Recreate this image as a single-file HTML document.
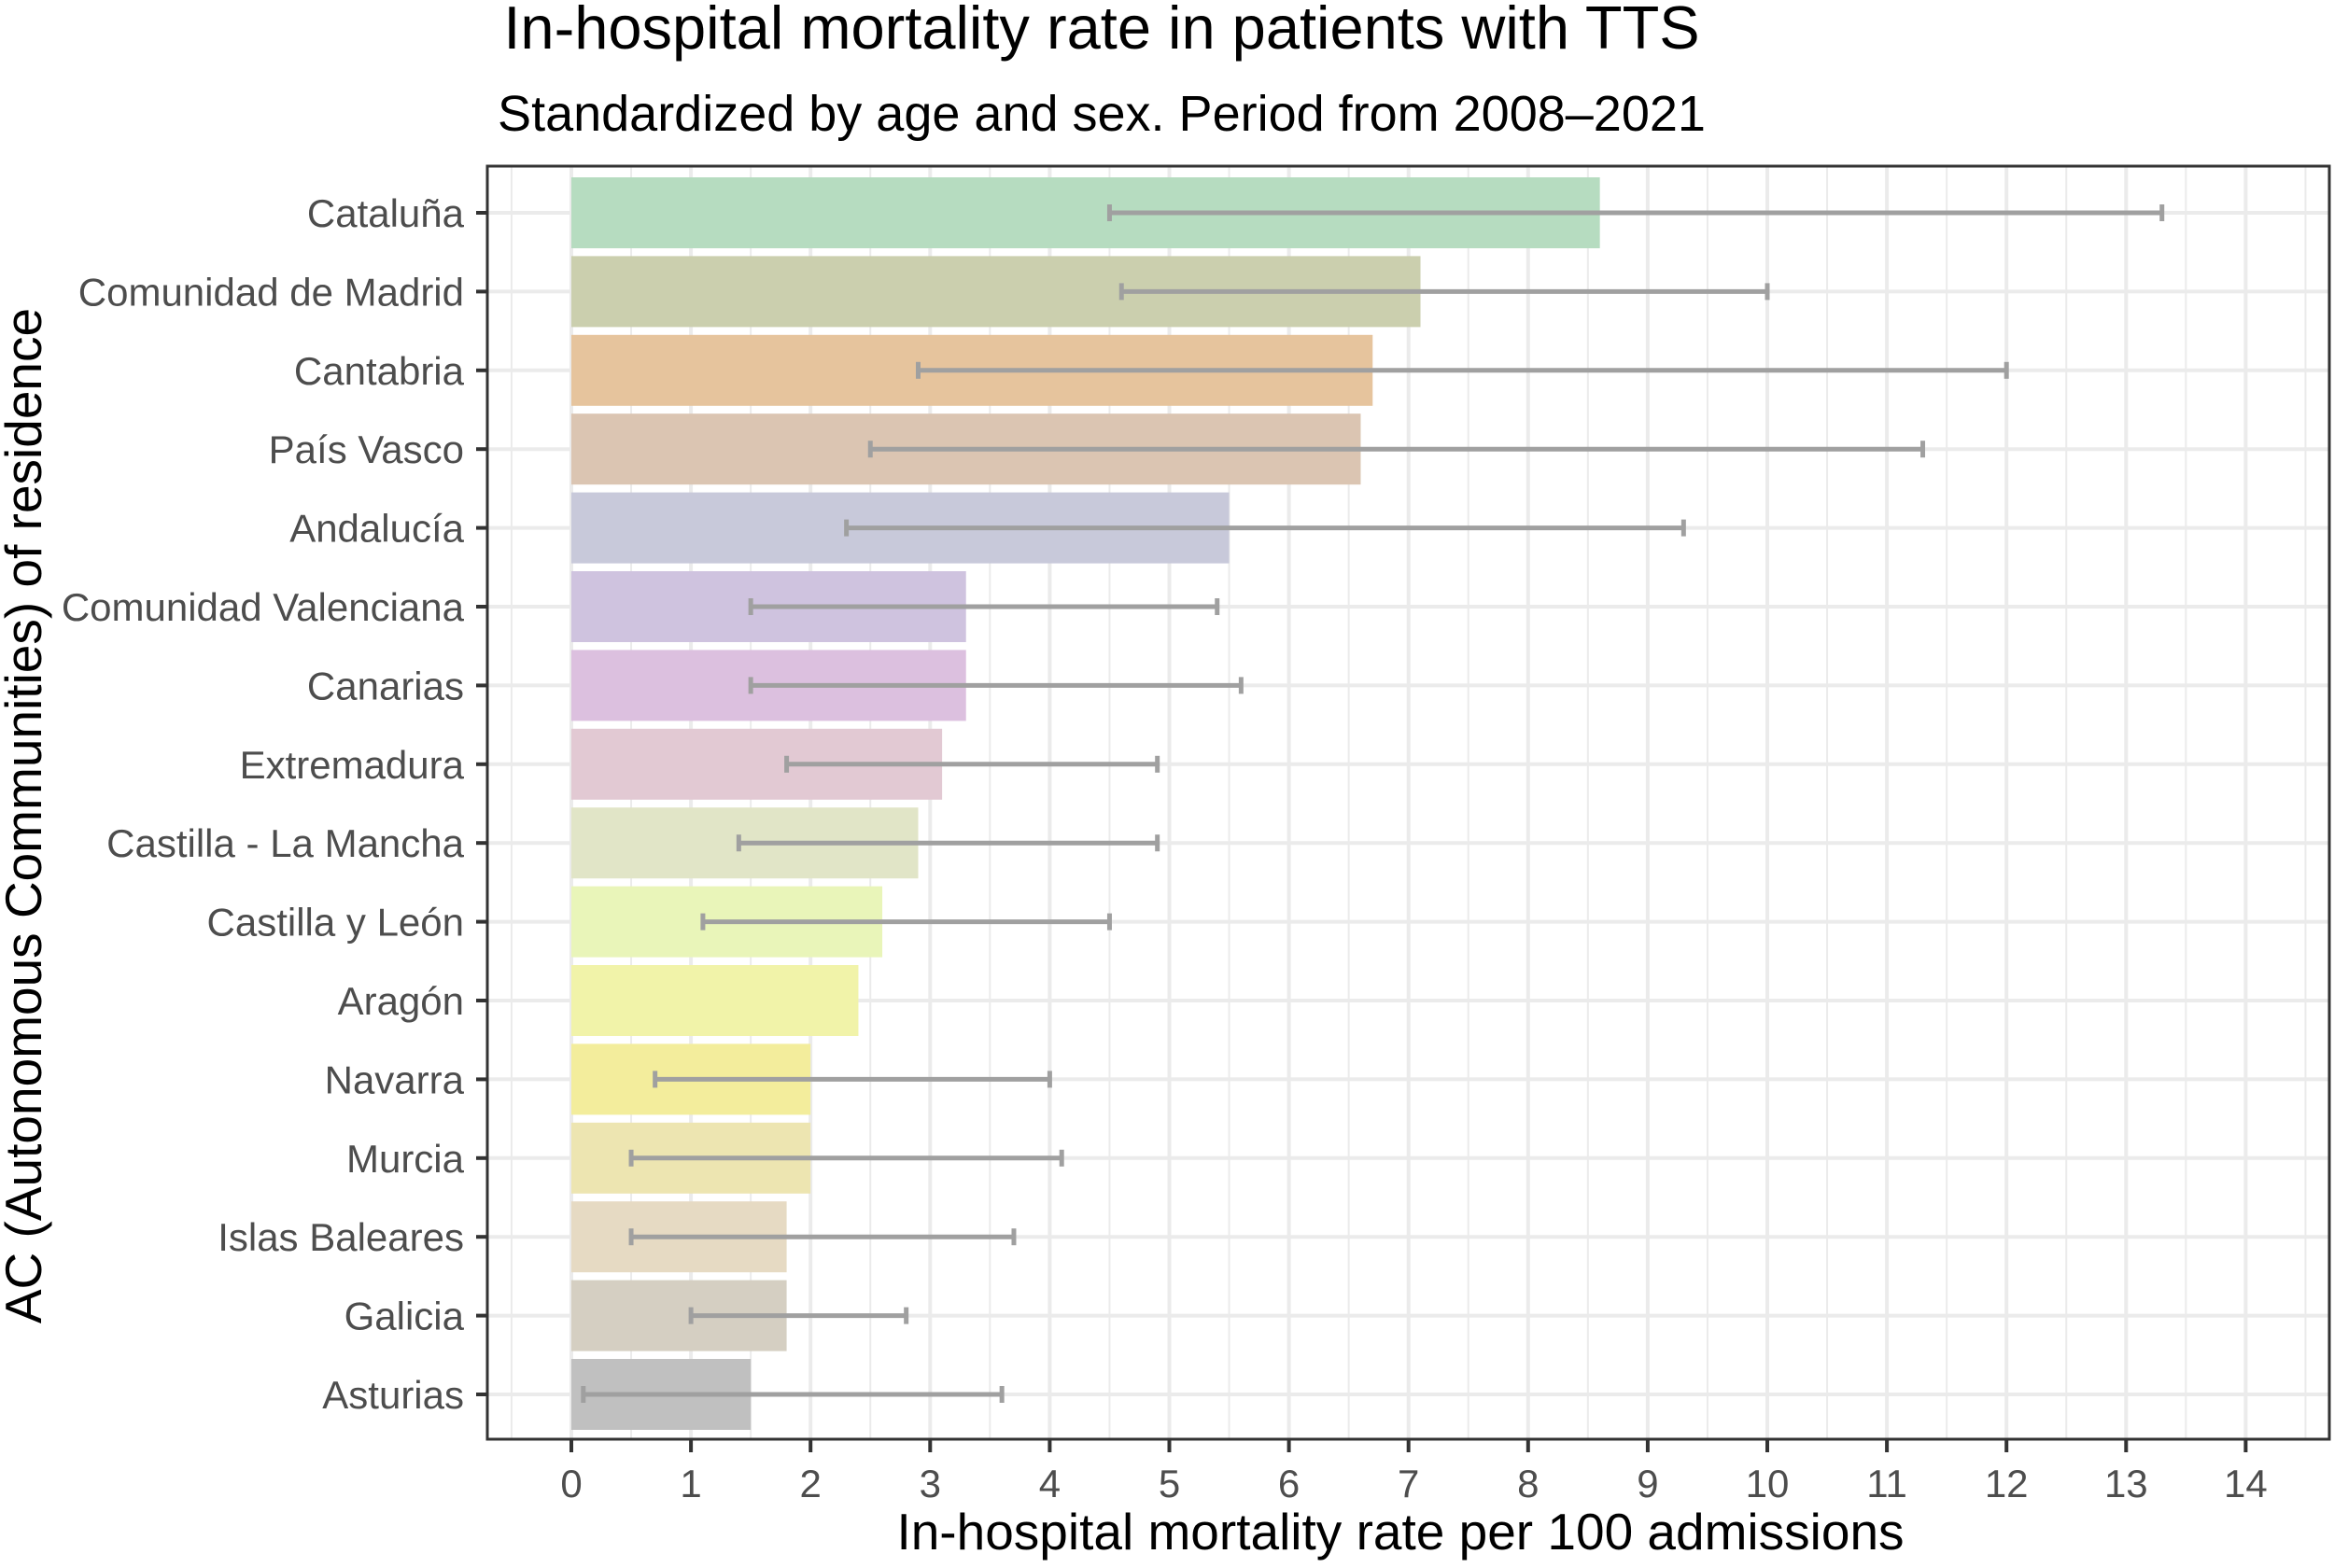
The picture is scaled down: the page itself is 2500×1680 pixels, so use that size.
<!DOCTYPE html>
<html><head><meta charset="utf-8"><style>
html,body{margin:0;padding:0;background:#fff;}
svg{display:block;font-family:"Liberation Sans",sans-serif;}
</style></head><body>
<svg id="chart" width="2500" height="1680" viewBox="0 0 2500 1680" xmlns="http://www.w3.org/2000/svg">
<rect width="2500" height="1680" fill="#fff"/>
<text x="1180" y="52" font-size="65" text-anchor="middle" fill="#000">In-hospital mortality rate in patients with TTS</text>
<text x="1180" y="140" font-size="54" text-anchor="middle" fill="#000">Standardized by age and sex. Period from 2008–2021</text>
<g id="grid"></g><g id="bars"></g><g id="errs"></g><g id="axes"></g>
<text x="1500" y="1660" font-size="55" text-anchor="middle" fill="#000">In-hospital mortality rate per 100 admissions</text>
<text transform="translate(44,874) rotate(-90)" font-size="55" text-anchor="middle" fill="#000">AC (Autonomous Communities) of residence</text>
</svg>
<script>
const categories=["Cataluña","Comunidad de Madrid","Cantabria","País Vasco","Andalucía","Comunidad Valenciana","Canarias","Extremadura","Castilla - La Mancha","Castilla y León","Aragón","Navarra","Murcia","Islas Baleares","Galicia","Asturias"];
const rates=[8.6,7.1,6.7,6.6,5.5,3.3,3.3,3.1,2.9,2.6,2.4,2.0,2.0,1.8,1.8,1.5];
const lower=[4.5,4.6,2.9,2.5,2.3,1.5,1.5,1.8,1.4,1.1,null,0.7,0.5,0.5,1.0,0.1];
const upper=[13.3,10.0,12.0,11.3,9.3,5.4,5.6,4.9,4.9,4.5,null,4.0,4.1,3.7,2.8,3.6];
const colors=["#b6dcc0","#cbcfae","#e6c49d","#dbc5b2","#c8c9da","#cfc3df","#dcc0df","#e2c9d3","#e1e5c7","#e9f5b9","#f1f3a9","#f3ed9c","#ede5b1","#e6dac3","#d5cfc2","#c0c0c0"];
const xTicks=[0,1,2,3,4,5,6,7,8,9,10,11,12,13,14];
const NS="http://www.w3.org/2000/svg";
const L=522,R=2495,T=178,B=1542;
const xs=v=>612+v*128.1;
const ys=i=>228+i*84.4;
function mk(tag,attrs,parent){const e=document.createElementNS(NS,tag);for(const k in attrs)e.setAttribute(k,attrs[k]);parent.appendChild(e);return e;}
const grid=document.getElementById('grid'),bars=document.getElementById('bars'),errs=document.getElementById('errs'),axes=document.getElementById('axes');
for(let v=-0.5;v<=14.5;v+=0.5){const g=mk('line',{x1:xs(v),x2:xs(v),y1:T,y2:B,stroke:'#ebebeb','stroke-width':Number.isInteger(v)?4:2},grid);

}
categories.forEach((c,i)=>{const g=mk('line',{x1:L,x2:R,y1:ys(i),y2:ys(i),stroke:'#ebebeb','stroke-width':4},grid);


const b=mk('rect',{x:xs(0),y:ys(i)-38,width:xs(rates[i])-xs(0),height:76,fill:colors[i]},bars);


if(lower[i]!==null){const e=mk('g',{stroke:'#a0a0a0','stroke-width':5},errs);


mk('line',{x1:xs(lower[i]),x2:xs(upper[i]),y1:ys(i),y2:ys(i)},e);
mk('line',{x1:xs(lower[i]),x2:xs(lower[i]),y1:ys(i)-9,y2:ys(i)+9},e);
mk('line',{x1:xs(upper[i]),x2:xs(upper[i]),y1:ys(i)-9,y2:ys(i)+9},e);}
const t=mk('line',{x1:510,x2:522,y1:ys(i),y2:ys(i),stroke:'#333','stroke-width':4},axes);


const lab=mk('text',{x:497,y:ys(i)+15,'font-size':42,'text-anchor':'end',fill:'#4d4d4d'},axes);
lab.textContent=c;

});
xTicks.forEach(v=>{const t=mk('line',{x1:xs(v),x2:xs(v),y1:B,y2:B+14,stroke:'#333','stroke-width':4},axes);


const lab=mk('text',{x:xs(v),y:1604,'font-size':42,'text-anchor':'middle',fill:'#4d4d4d'},axes);
lab.textContent=v;

});
const fr=mk('rect',{x:L,y:T,width:R-L,height:B-T,fill:'none',stroke:'#333','stroke-width':3},axes);


</script>
</body></html>
